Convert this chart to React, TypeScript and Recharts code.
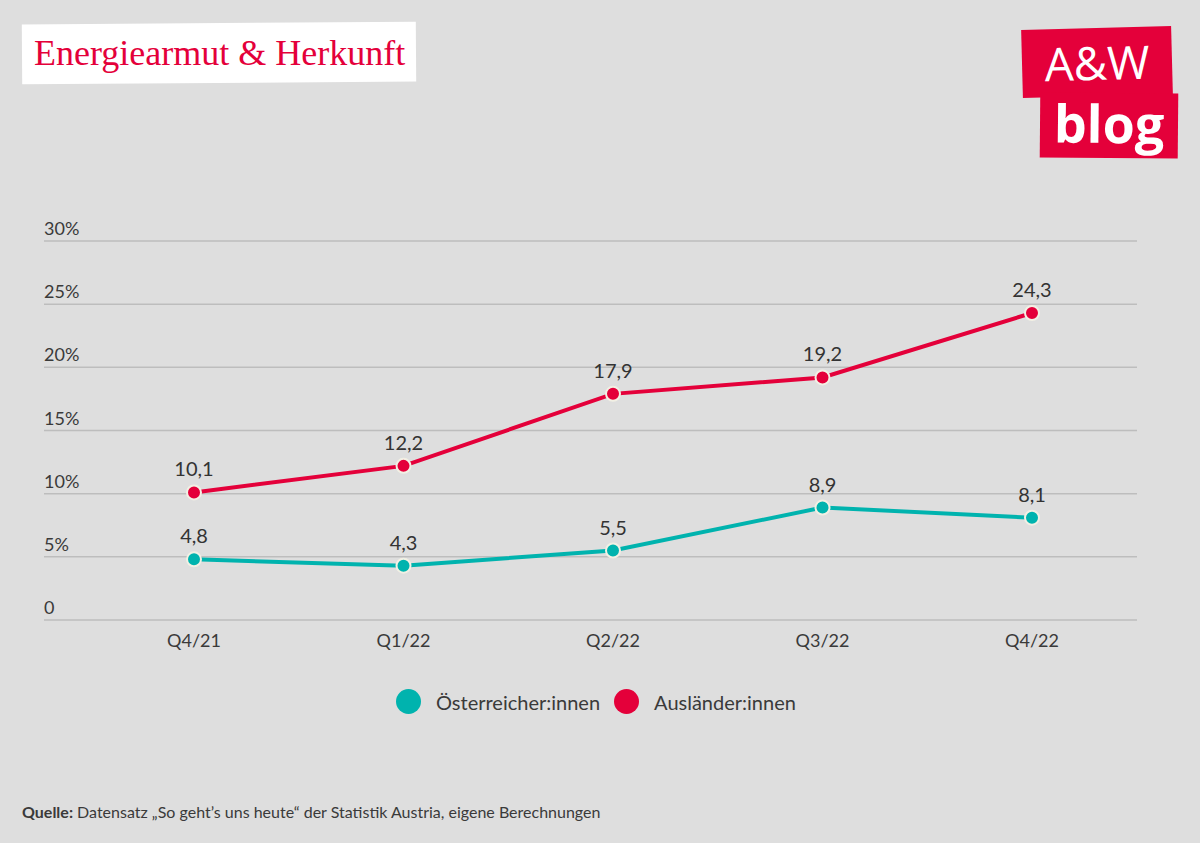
import { LineChart, Line, XAxis, YAxis, CartesianGrid, LabelList } from 'recharts';

const quarters = ['Q4/21', 'Q1/22', 'Q2/22', 'Q3/22', 'Q4/22'];
const oesterreicher = [4.8, 4.3, 5.5, 8.9, 8.1];
const auslaender = [10.1, 12.2, 17.9, 19.2, 24.3];
const yTicks = [0, 5, 10, 15, 20, 25, 30];

const TEAL = '#00b3ae';
const RED = '#e4003a';
const BG = '#dedede';
const FONT = 'Lato, "Open Sans", sans-serif';

const data = quarters.map((q, i) => ({
  quarter: q,
  oe: oesterreicher[i],
  au: auslaender[i],
}));

function fmtPct(v: number): string {
  return v === 0 ? '0' : `${v}%`;
}

function fmtComma(v: unknown): string {
  return String(v).replace('.', ',');
}

function YTick(props: any) {
  const { y, payload } = props;
  return (
    <text x={44} y={y - 6} textAnchor="start" fill="#3a3a3a" fontSize={18} fontFamily={FONT}>
      {fmtPct(payload.value)}
    </text>
  );
}

const legendItems = [
  { label: 'Österreicher:innen', color: TEAL },
  { label: 'Ausländer:innen', color: RED },
];

const dot = (color: string) => ({ r: 7, fill: color, stroke: '#f2f0e4', strokeWidth: 2 });

export default function App() {
  return (
    <div style={{ position: 'absolute', left: 0, top: 0, width: 1200, height: 843, background: BG, overflow: 'hidden' }}>
      {/* title */}
      <div
        style={{
          position: 'absolute',
          left: 22,
          top: 23,
          width: 394,
          height: 60,
          background: '#fff',
          transform: 'rotate(-0.4deg)',
        }}
      />
      <div
        style={{
          position: 'absolute',
          left: 34,
          top: 32,
          fontFamily: '"Liberation Serif", serif',
          fontSize: 36,
          color: RED,
        }}
      >
        Energiearmut &amp; Herkunft
      </div>

      {/* logo */}
      <div
        style={{
          position: 'absolute',
          left: 1022,
          top: 28,
          width: 150,
          height: 68,
          background: RED,
          transform: 'rotate(-1.5deg)',
          color: '#fff',
          fontFamily: '"Open Sans", sans-serif',
          fontSize: 46,
          lineHeight: '68px',
          textAlign: 'center',
        }}
      >
        A&amp;W
      </div>
      <div
        style={{
          position: 'absolute',
          left: 1040,
          top: 93,
          width: 138,
          height: 65,
          background: RED,
          transform: 'rotate(0.5deg)',
          color: '#fff',
          fontFamily: '"Open Sans", sans-serif',
          fontWeight: 700,
          fontSize: 52,
          lineHeight: '60px',
          textAlign: 'center',
        }}
      >
        blog
      </div>

      <div style={{ position: 'absolute', left: 0, top: 0 }}>
        <LineChart width={1200} height={843} data={data} margin={{ top: 241, right: 63, bottom: 183, left: 0 }}>
          <CartesianGrid vertical={false} stroke="#bdbdbd" strokeWidth={1.5} />
          <XAxis
            dataKey="quarter"
            height={40}
            axisLine={false}
            tickLine={false}
            padding={{ left: 150, right: 105 }}
            tick={{ fill: '#3a3a3a', fontSize: 18, fontFamily: FONT }}
            tickMargin={8}
          />
          <YAxis
            width={44}
            domain={[0, 30]}
            ticks={yTicks}
            axisLine={false}
            tickLine={false}
            tick={<YTick />}
          />
          <Line
            dataKey="oe"
            name="Österreicher:innen"
            stroke={TEAL}
            strokeWidth={4}
            dot={dot(TEAL)}
            isAnimationActive={false}
          >
            <LabelList
              dataKey="oe"
              position="top"
              offset={16}
              formatter={fmtComma}
              style={{ fill: '#333', fontSize: 20, fontFamily: FONT }}
            />
          </Line>
          <Line
            dataKey="au"
            name="Ausländer:innen"
            stroke={RED}
            strokeWidth={4}
            dot={dot(RED)}
            isAnimationActive={false}
          >
            <LabelList
              dataKey="au"
              position="top"
              offset={16}
              formatter={fmtComma}
              style={{ fill: '#333', fontSize: 20, fontFamily: FONT }}
            />
          </Line>
        </LineChart>
      </div>

      {/* legend */}
      <div
        style={{
          position: 'absolute',
          top: 689,
          left: 396,
          display: 'flex',
          alignItems: 'center',
          gap: 14,
          fontFamily: FONT,
        }}
      >
        {legendItems.map((it) => (
          <div key={it.label} style={{ display: 'flex', alignItems: 'center' }}>
            <span
              style={{ width: 25, height: 25, borderRadius: 13, background: it.color, display: 'inline-block', marginRight: 15 }}
            />
            <span style={{ fontSize: 20, color: '#3a3a3a' }}>{it.label}</span>
          </div>
        ))}
      </div>

      {/* source */}
      <div
        style={{
          position: 'absolute',
          left: 22,
          top: 802,
          fontFamily: FONT,
          fontSize: 16,
          color: '#3a3a3a',
        }}
      >
        <b>Quelle:</b> Datensatz „So geht’s uns heute“ der Statistik Austria, eigene Berechnungen
      </div>
    </div>
  );
}
